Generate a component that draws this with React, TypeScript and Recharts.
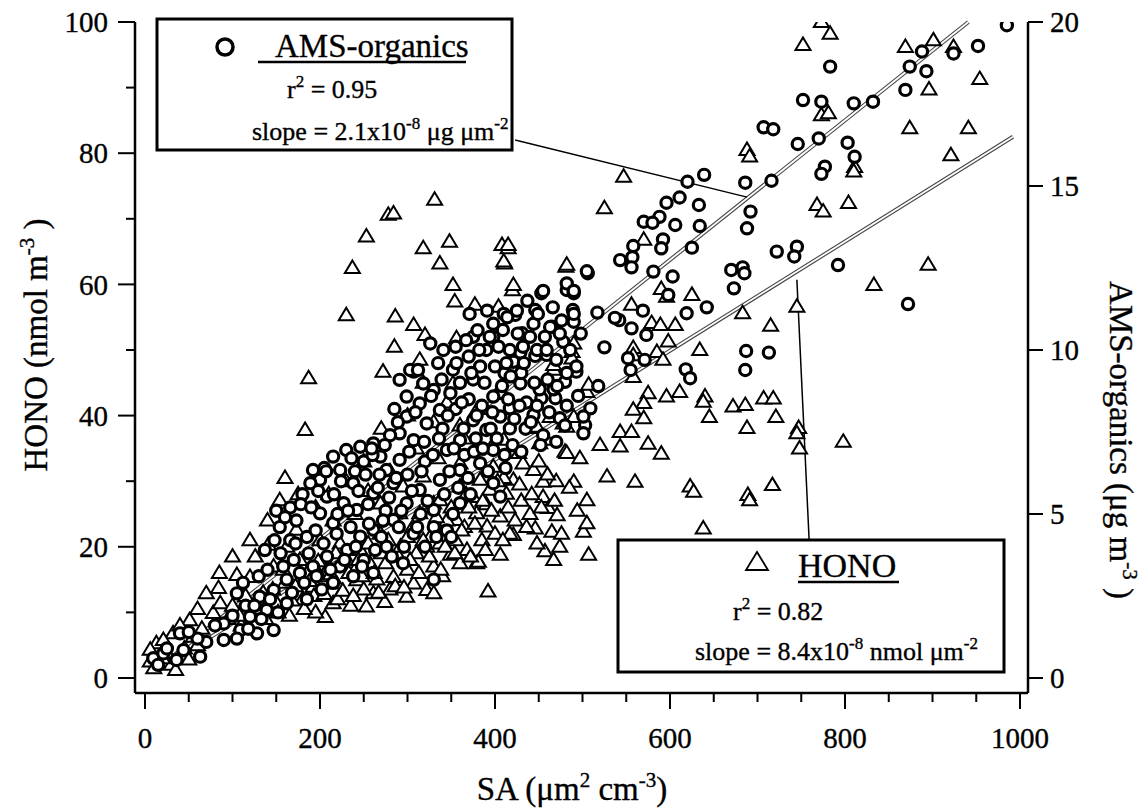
import React from 'react';
import { ScatterChart, Scatter, XAxis, YAxis, ReferenceLine } from 'recharts';

const FONT = '"Liberation Serif", "Times New Roman", Times, serif';

// AMS-organics (right axis, µg m-3) vs SA
const amsPoints: [number, number][] = [
  [985, 19.9], [952, 19.27], [924, 19.04], [888, 19.1], [874, 18.64], [893, 18.5], [869, 17.93], [783, 18.64],
  [832, 17.57], [810, 17.52], [773, 17.57], [752, 17.62], [707, 16.79], [718, 16.73], [746, 16.28], [770, 16.45],
  [803, 16.32], [811, 15.89], [777, 15.59], [773, 15.37], [716, 15.16], [686, 15.1], [639, 15.34], [620, 15.13],
  [633, 14.42], [634, 13.78], [611, 14.65], [596, 14.49], [606, 13.81], [588, 14.06], [570, 13.91], [580, 13.88],
  [592, 13.37], [590, 13.1], [558, 13.17], [543, 12.74], [557, 12.83], [556, 12.52], [625, 13.12], [692, 14.22],
  [688, 13.71], [722, 13.0], [745, 13.15], [742, 12.85], [792, 12.59], [872, 11.4], [670, 12.44], [683, 12.52],
  [685, 12.34], [673, 11.88], [581, 12.39], [603, 12.24], [598, 11.68], [642, 11.3], [619, 11.12], [569, 11.2],
  [517, 11.14], [542, 10.91], [556, 10.66], [573, 10.46], [525, 10.08], [571, 9.7], [555, 9.39], [618, 9.41],
  [623, 9.14], [687, 9.97], [713, 9.92], [686, 9.39], [518, 8.9], [506, 12.34], [482, 11.83], [490, 11.73],
  [453, 11.73], [489, 11.22], [490, 10.86], [423, 11.07], [446, 11.22], [465, 10.71], [478, 10.25], [431, 10.51],
  [409, 10.61], [429, 9.92], [446, 9.82], [459, 9.85], [421, 9.64], [411, 9.29], [493, 9.34], [480, 9.03],
  [453, 8.53], [469, 8.53], [417, 8.22], [444, 8.02], [474, 7.92], [503, 7.71], [417, 7.61], [509, 8.22],
  [501, 7.46], [552, 9.75], [406, 8.69], [537, 10.98],
  [9.5, 0.6], [21, 0.75], [36, 0.55], [44, 0.85], [63, 0.65], [40, 1.36], [70, 1.1], [90, 1.16], [109, 1.46],
  [90, 1.66], [128, 1.36], [147, 1.46], [162, 2.28], [139, 2.07], [120, 1.87], [105, 2.58], [150, 5.1], [166, 5.2],
  [154, 4.6], [173, 4.8], [166, 4.2], [185, 4.3], [192, 6.34], [200, 6.04], [189, 5.94], [215, 6.75], [230, 6.95],
  [246, 7.05], [261, 7.15], [223, 6.34], [238, 5.94], [208, 5.53], [227, 5.33], [200, 5.02], [215, 4.72], [242, 5.12],
  [261, 5.63], [276, 6.34], [284, 5.94], [291, 6.65], [269, 6.75], [291, 7.46], [299, 7.97], [314, 8.37], [322, 7.76],
  [307, 7.25], [337, 8.17], [349, 8.68], [330, 8.78], [299, 8.58], [291, 9.09], [307, 9.34], [318, 8.98], [326, 10.2],
  [341, 10.0], [352, 9.4], [360, 9.0], [375, 9.1], [383, 9.5], [390, 10.0], [375, 10.4], [398, 10.8], [410, 11.1],
  [425, 11.2], [398, 10.4], [417, 10.0], [432, 10.1], [448, 10.0], [459, 10.0], [444, 10.8], [463, 10.7], [474, 10.5],
  [455, 11.8], [482, 12.03], [490, 11.8], [490, 11.1], [505, 12.4], [493, 9.5], [482, 9.3], [451, 8.8], [467, 8.8],
  [436, 8.4], [448, 8.3], [482, 8.3], [501, 7.97], [429, 8.98], [413, 9.6], [398, 8.58], [406, 7.97], [390, 7.56],
  [375, 7.86], [360, 7.25], [345, 6.95], [398, 6.95], [383, 6.55], [360, 6.34], [337, 6.04], [398, 5.94], [406, 5.53],
  [360, 5.33], [330, 5.12], [314, 5.73], [299, 5.33], [284, 4.82], [261, 4.52], [246, 4.31], [231, 3.9], [208, 3.7],
  [192, 3.4], [177, 3.2], [162, 3.0], [147, 2.68], [131, 2.48], [276, 4.0], [295, 3.5], [330, 3.0], [330, 4.6],
  [345, 4.5], [352, 5.0], [307, 4.4], [261, 3.2], [238, 3.1], [223, 3.4], [202, 2.7], [303, 9.39], [312, 9.39],
  [371, 11.1], [391, 11.2],
  [180, 5.6], [205, 6.4], [250, 6.6], [268, 6.2], [280, 7.4], [235, 4.6], [255, 5.3], [275, 5.1], [300, 6.2],
  [320, 6.6], [340, 7.6], [355, 8.2], [370, 8.5], [385, 8.3], [365, 6.8], [378, 7.3], [395, 7.6], [420, 7.1],
  [435, 7.6], [412, 6.4], [350, 4.3], [372, 5.6], [320, 4.0], [130, 3.1], [115, 2.2], [100, 1.9], [80, 1.6],
  [60, 1.2], [50, 1.4], [25, 0.9], [15, 0.4], [185, 2.4], [215, 2.9], [250, 3.6], [270, 4.3], [290, 4.6],
  [315, 5.0], [170, 3.6], [140, 3.3], [155, 3.8], [195, 4.5], [220, 5.0], [240, 6.3], [260, 6.8], [285, 8.2],
  [335, 9.6], [355, 10.1], [370, 9.8], [400, 9.5], [430, 9.3], [460, 9.1], [415, 8.5], [440, 10.4], [470, 9.7],
  [455, 7.4], [470, 7.2], [430, 6.9], [380, 10.6],
  [105, 1.2], [112, 2.9], [118, 1.5], [125, 2.2], [133, 1.8], [137, 3.9], [143, 2.4], [148, 4.2], [152, 2.0],
  [158, 3.4], [160, 4.9], [168, 2.6], [172, 4.1], [178, 5.3], [182, 2.9], [187, 3.8], [190, 5.2], [196, 3.1],
  [198, 5.7], [204, 4.1], [207, 6.3], [212, 3.3], [216, 5.6], [219, 4.4], [224, 6.0], [228, 3.6], [232, 5.1],
  [236, 6.7], [241, 4.0], [244, 5.7], [248, 3.4], [252, 6.2], [256, 4.7], [259, 7.0], [263, 3.9], [266, 5.8],
  [272, 4.8], [274, 7.1], [279, 5.5], [282, 3.7], [287, 6.1], [289, 7.8], [293, 5.1], [296, 4.0], [302, 6.9],
  [305, 5.7], [309, 8.1], [311, 4.6], [316, 6.3], [319, 7.2], [323, 5.4], [327, 8.6], [329, 6.8], [333, 4.3],
  [336, 7.3], [339, 9.1], [342, 5.6], [346, 8.0], [348, 6.3], [353, 7.0], [356, 9.6], [358, 5.8], [362, 8.4],
  [364, 7.6], [367, 10.3], [369, 6.1], [373, 9.3], [376, 6.9], [379, 8.0], [382, 10.0], [386, 7.0], [388, 9.0],
  [392, 6.3], [394, 10.4], [397, 8.1], [402, 7.3], [404, 10.1], [408, 8.9], [411, 6.8], [414, 11.0], [418, 9.2],
  [422, 7.9], [426, 10.5], [428, 8.3], [433, 9.6], [437, 11.5], [441, 7.8], [445, 9.0], [449, 11.1], [452, 7.1],
  [457, 10.4], [462, 8.1], [466, 11.3], [471, 8.9], [476, 10.9], [480, 7.7], [486, 10.0], [495, 8.6], [498, 10.5],
];

// HONO (left axis, nmol m-3) vs SA
const honoPoints: [number, number][] = [
  [773, 100.0], [783, 98.2], [752, 96.5], [869, 96.2], [901, 97.2], [924, 96.2], [954, 91.3], [896, 89.7],
  [874, 83.8], [941, 83.8], [921, 79.7], [773, 85.8], [781, 86.1], [811, 77.9], [810, 77.2], [768, 72.1],
  [775, 71.1], [804, 72.4], [895, 63.0], [833, 59.9], [688, 80.5], [691, 79.5], [547, 76.4], [525, 71.6],
  [415, 65.5], [411, 63.2], [570, 66.8], [481, 62.7], [420, 59.1], [625, 58.4], [590, 59.3], [596, 58.1],
  [745, 56.6], [683, 55.6], [715, 53.7], [634, 50.0], [556, 56.9], [579, 54.1], [589, 53.8], [606, 53.8],
  [598, 51.3], [558, 50.3], [585, 49.7], [488, 49.7], [488, 48.7], [467, 47.0], [558, 45.9], [592, 48.5],
  [505, 43.6], [575, 43.4], [596, 42.9], [611, 43.6], [640, 42.9], [638, 42.1], [672, 41.4], [686, 41.6],
  [707, 42.6], [718, 42.6], [721, 39.8], [645, 39.8], [570, 41.9], [558, 40.9], [570, 39.6], [747, 38.1],
  [688, 38.1], [442, 38.1], [543, 37.5], [556, 37.5], [558, 49.2], [798, 36.0], [745, 37.3],
  [543, 35.3], [575, 35.7], [590, 34.2], [520, 35.5], [528, 30.7], [560, 29.9], [623, 29.2], [627, 28.4],
  [689, 27.9], [691, 27.1], [717, 29.4], [638, 22.8], [748, 35.0],
  [331, 72.9], [278, 70.6], [284, 70.8], [253, 67.3], [318, 65.5], [348, 66.5], [337, 63.2], [408, 66.0],
  [415, 66.0], [410, 63.5], [237, 62.5], [352, 59.9], [354, 57.4], [421, 59.9], [482, 63.0], [230, 55.3],
  [286, 55.1], [307, 53.8], [377, 56.9], [404, 56.6], [320, 52.3], [285, 50.5], [314, 48.5], [272, 46.7],
  [187, 45.7], [183, 37.8], [356, 51.8], [490, 51.0], [467, 47.7], [507, 44.7], [490, 39.8], [478, 38.8],
  [440, 39.3], [459, 36.3], [480, 34.5], [497, 33.5], [490, 29.9], [505, 27.1], [455, 29.9], [455, 27.6],
  [461, 25.9], [471, 24.8], [446, 22.8], [465, 22.3], [501, 22.3], [421, 21.8], [474, 20.0], [457, 19.3],
  [467, 18.0], [507, 18.8], [406, 18.8], [392, 13.2], [379, 17.5], [105, 15.7], [84, 13.7], [126, 18.5],
  [141, 20.3], [154, 27.1], [206, 9.3], [215, 11.4], [253, 10.9], [274, 11.6], [299, 12.4], [322, 13.4],
  [330, 12.9], [307, 14.4], [284, 15.4], [261, 12.9], [242, 14.9], [219, 14.4], [192, 13.9], [177, 18.0],
  [231, 18.0], [257, 17.5], [322, 20.0], [337, 20.5], [349, 18.8], [368, 19.5], [360, 17.5], [381, 17.7],
  [345, 22.6], [326, 21.5], [314, 25.1], [330, 26.6], [356, 24.1], [379, 25.1], [391, 23.1], [406, 24.6],
  [417, 22.0], [375, 27.6], [394, 28.7], [413, 28.1], [421, 30.2], [432, 32.7], [444, 31.7], [427, 34.3],
  [451, 35.8], [448, 38.3], [482, 34.3], [482, 38.3], [398, 32.2], [383, 30.2], [360, 29.2], [337, 27.1],
  [291, 25.1], [269, 22.0], [246, 19.5], [223, 20.5], [200, 21.0], [173, 22.6], [162, 20.0], [147, 17.0],
  [120, 15.4], [70, 12.9], [51, 8.8], [32, 6.8], [13, 5.3], [6, 4.3], [21, 5.8], [269, 26.6], [295, 29.2],
  [318, 30.7], [360, 32.7], [379, 34.8], [410, 36.3], [463, 39.8], [505, 23.6], [352, 44.9],
  [6, 2.5], [25, 3.8], [55, 6.3], [78, 9.9], [86, 11.4],
  [30, 2.0], [45, 4.5], [60, 5.0], [65, 7.5], [95, 9.0], [100, 11.0], [110, 8.0], [115, 12.5], [130, 10.5],
  [135, 13.0], [150, 11.5], [160, 14.5], [165, 9.5], [180, 12.0], [185, 16.0], [195, 10.0], [200, 15.5],
  [210, 17.0], [220, 12.0], [235, 11.0], [240, 16.5], [250, 13.5], [265, 15.0], [270, 19.0], [280, 13.5],
  [290, 18.5], [300, 16.5], [300, 21.5], [310, 19.0], [330, 17.0], [340, 15.5], [345, 24.0], [355, 21.0],
  [365, 23.0], [370, 26.0], [385, 21.0], [390, 26.5], [400, 22.0], [410, 30.5], [430, 27.0], [440, 25.0],
  [450, 33.0], [470, 30.0], [395, 35.0], [365, 36.5], [335, 33.5], [310, 35.0], [280, 31.5], [255, 28.5],
  [240, 25.0], [215, 24.0], [195, 26.0], [175, 28.0], [160, 30.5], [140, 24.0], [120, 21.0], [100, 18.5],
  [85, 16.0], [60, 10.5], [40, 8.0], [20, 3.0], [10, 1.5], [35, 1.2], [50, 2.8],
  [318, 45.0], [300, 40.0], [270, 38.0], [250, 33.0], [330, 39.0], [345, 42.0], [230, 30.0], [210, 28.0],
  [380, 41.0], [360, 38.5],
  [108, 9.5], [118, 7.8], [128, 12.0], [138, 9.0], [146, 13.5], [152, 10.0], [158, 16.5], [168, 11.8],
  [172, 14.0], [182, 10.5], [188, 14.8], [193, 12.5], [198, 17.8], [205, 12.8], [212, 15.8], [218, 19.0],
  [226, 13.3], [233, 16.0], [238, 12.5], [244, 18.0], [248, 15.5], [255, 20.5], [262, 16.0], [267, 13.0],
  [275, 17.5], [278, 21.0], [286, 14.0], [292, 20.0], [296, 13.8], [303, 18.0], [306, 23.0], [313, 16.0],
  [318, 21.0], [325, 18.5], [333, 24.5], [338, 16.5], [343, 20.0], [350, 26.0], [354, 19.0], [362, 22.5],
  [367, 28.0], [372, 18.5], [377, 23.5], [386, 27.0], [389, 19.5], [396, 25.5], [403, 30.0], [409, 21.0],
  [415, 26.0], [423, 24.0], [428, 29.5], [436, 23.0], [442, 28.0], [448, 20.5], [453, 26.0], [460, 31.0],
  [468, 27.0], [476, 22.0], [485, 29.0], [494, 25.5],
];

// Linear fits (endpoints)
const amsFit: [number, number][] = [[10, 0.2], [941, 20.0]];
const honoFit: [number, number][] = [[12, 1.0], [992, 82.5]];
// Leader lines from the annotation boxes (left-axis units)
const amsLeader: [number, number][] = [[423, 82.0], [688, 73.3]];
const honoLeader: [number, number][] = [[745, 60.7], [759, 21.0]];

const xTicks = [0, 50, 100, 150, 200, 250, 300, 350, 400, 450, 500, 550, 600, 650, 700, 750, 800, 850, 900, 950, 1000];
const xLabelTicks = [0, 200, 400, 600, 800, 1000];
const leftTicks = [0, 10, 20, 30, 40, 50, 60, 70, 80, 90, 100];
const leftLabelTicks = [0, 20, 40, 60, 80, 100];
const rightTicks = [0, 5, 10, 15, 20];

const amsData = amsPoints.map(([x, y]) => ({ x, y }));
const honoData = honoPoints.map(([x, y]) => ({ x, y }));

const INK = { fill: '#000', stroke: '#000', strokeWidth: 0.35 };

const XTick = (p: any) => {
  const v = p.payload.value;
  const major = xLabelTicks.includes(v);
  return (
    <g>
      <line x1={p.x} y1={p.y} x2={p.x} y2={p.y + (major ? 16 : 9)} stroke="#000" strokeWidth={2} />
      {major && (
        <text x={p.x} y={p.y + 55} textAnchor="middle" fontFamily={FONT} fontSize={29} {...INK}>{v}</text>
      )}
    </g>
  );
};

const LeftTick = (p: any) => {
  const v = p.payload.value;
  const major = leftLabelTicks.includes(v);
  return (
    <g>
      <line x1={p.x} y1={p.y} x2={p.x - (major ? 17 : 9)} y2={p.y} stroke="#000" strokeWidth={2} />
      {major && (
        <text x={p.x - 27} y={p.y} dy="0.35em" textAnchor="end" fontFamily={FONT} fontSize={29} {...INK}>{v}</text>
      )}
    </g>
  );
};

const RightTick = (p: any) => {
  const v = p.payload.value;
  return (
    <g>
      <line x1={p.x} y1={p.y} x2={p.x + 15} y2={p.y} stroke="#000" strokeWidth={2} />
      <text x={p.x + 22} y={p.y} dy="0.35em" textAnchor="start" fontFamily={FONT} fontSize={29} {...INK}>{v}</text>
    </g>
  );
};

const CircleMark = (p: any) => (
  <circle cx={p.cx} cy={p.cy} r={5.6} fill="#fff" stroke="#000" strokeWidth={3.2} />
);

const TriMark = (p: any) => (
  <path
    d={`M${p.cx},${p.cy - 7.5} L${p.cx + 7.5},${p.cy + 5} L${p.cx - 7.5},${p.cy + 5} Z`}
    fill="#fff"
    stroke="#000"
    strokeWidth={2}
  />
);

const seg = (pts: [number, number][]) => pts.map(([x, y]) => ({ x, y }));

export default function App() {
  return (
    <div style={{ position: 'absolute', left: 0, top: 0, width: 1145, height: 809, background: '#fff' }}>
      <ScatterChart width={1145} height={809} margin={{ top: 22, right: 0, bottom: 0, left: 0 }}>
        <XAxis
          xAxisId="x"
          dataKey="x"
          type="number"
          domain={[-11.43, 1009.14]}
          ticks={xTicks}
          interval={0}
          height={116}
          tick={(p: any) => <XTick {...p} />}
          tickLine={false}
          tickSize={0}
          tickMargin={0}
          axisLine={{ stroke: '#000', strokeWidth: 2.5 }}
          allowDataOverflow
        />
        <YAxis
          yAxisId="left"
          orientation="left"
          dataKey="y"
          type="number"
          domain={[-2.29, 100]}
          ticks={leftTicks}
          interval={0}
          width={135}
          tick={(p: any) => <LeftTick {...p} />}
          tickLine={false}
          tickSize={0}
          tickMargin={0}
          axisLine={{ stroke: '#000', strokeWidth: 2.5 }}
          allowDataOverflow
        />
        <YAxis
          yAxisId="right"
          orientation="right"
          dataKey="y"
          type="number"
          domain={[-0.458, 20]}
          ticks={rightTicks}
          interval={0}
          width={117}
          tick={(p: any) => <RightTick {...p} />}
          tickLine={false}
          tickSize={0}
          tickMargin={0}
          axisLine={{ stroke: '#000', strokeWidth: 2.5 }}
          allowDataOverflow
        />
        <Scatter
          name="HONO"
          data={honoData}
          xAxisId="x"
          yAxisId="left"
          shape={(p: any) => <TriMark {...p} />}
          isAnimationActive={false}
        />
        <Scatter
          name="AMS-organics"
          data={amsData}
          xAxisId="x"
          yAxisId="right"
          shape={(p: any) => <CircleMark {...p} />}
          isAnimationActive={false}
        />
        <ReferenceLine xAxisId="x" yAxisId="right" segment={seg(amsFit)} stroke="#444" strokeWidth={4} ifOverflow="visible" />
        <ReferenceLine xAxisId="x" yAxisId="right" segment={seg(amsFit)} stroke="#fff" strokeWidth={1.8} ifOverflow="visible" />
        <ReferenceLine xAxisId="x" yAxisId="left" segment={seg(honoFit)} stroke="#444" strokeWidth={4} ifOverflow="visible" />
        <ReferenceLine xAxisId="x" yAxisId="left" segment={seg(honoFit)} stroke="#fff" strokeWidth={1.8} ifOverflow="visible" />
        <ReferenceLine xAxisId="x" yAxisId="left" segment={seg(amsLeader)} stroke="#000" strokeWidth={1.5} ifOverflow="visible" />
        <ReferenceLine xAxisId="x" yAxisId="left" segment={seg(honoLeader)} stroke="#000" strokeWidth={1.5} ifOverflow="visible" />
      </ScatterChart>
      <svg
        width={1145}
        height={809}
        style={{ position: 'absolute', left: 0, top: 0, pointerEvents: 'none' }}
        fontFamily={FONT}
      >
        {/* axis titles */}
        <text x={572} y={800} textAnchor="middle" fontSize={33} {...INK}>
          SA (μm<tspan dy={-13} fontSize={21}>2</tspan>
          <tspan dy={13}> cm</tspan>
          <tspan dy={-13} fontSize={21}>-3</tspan>
          <tspan dy={13}>)</tspan>
        </text>
        <text transform="translate(47,345) rotate(-90)" textAnchor="middle" fontSize={33} {...INK}>
          HONO (nmol m<tspan dy={-13} fontSize={21}>-3</tspan>
          <tspan dy={13}> )</tspan>
        </text>
        <text transform="translate(1110,440) rotate(90)" textAnchor="middle" fontSize={33} {...INK}>
          AMS-organics (μg m<tspan dy={-13} fontSize={21}>-3</tspan>
          <tspan dy={13}> )</tspan>
        </text>

        {/* AMS annotation box */}
        <rect x={157} y={19} width={355} height={131} fill="#fff" stroke="#000" strokeWidth={3} />
        <circle cx={225} cy={47} r={8} fill="#fff" stroke="#000" strokeWidth={3.5} />
        <text x={275} y={57} fontSize={33} {...INK}>AMS-organics</text>
        <line x1={258} y1={62} x2={466} y2={62} stroke="#000" strokeWidth={2.5} />
        <text x={287} y={98} fontSize={26} {...INK}>
          r<tspan dy={-11} fontSize={17}>2</tspan>
          <tspan dy={11}> = 0.95</tspan>
        </text>
        <text x={252} y={140} fontSize={26} {...INK}>
          slope = 2.1x10<tspan dy={-11} fontSize={17}>-8</tspan>
          <tspan dy={11}> μg μm</tspan>
          <tspan dy={-11} fontSize={17}>-2</tspan>
        </text>

        {/* HONO annotation box */}
        <rect x={618} y={540} width={386} height={132} fill="#fff" stroke="#000" strokeWidth={3} />
        <path d="M757,552 L768,570 L746,570 Z" fill="#fff" stroke="#000" strokeWidth={1.8} />
        <text x={798} y={577} fontSize={34} {...INK}>HONO</text>
        <line x1={798} y1={582} x2={899} y2={582} stroke="#000" strokeWidth={2.5} />
        <text x={733} y={620} fontSize={26} {...INK}>
          r<tspan dy={-11} fontSize={17}>2</tspan>
          <tspan dy={11}> = 0.82</tspan>
        </text>
        <text x={695} y={660} fontSize={26} {...INK}>
          slope = 8.4x10<tspan dy={-11} fontSize={17}>-8</tspan>
          <tspan dy={11}> nmol μm</tspan>
          <tspan dy={-11} fontSize={17}>-2</tspan>
        </text>
      </svg>
    </div>
  );
}
